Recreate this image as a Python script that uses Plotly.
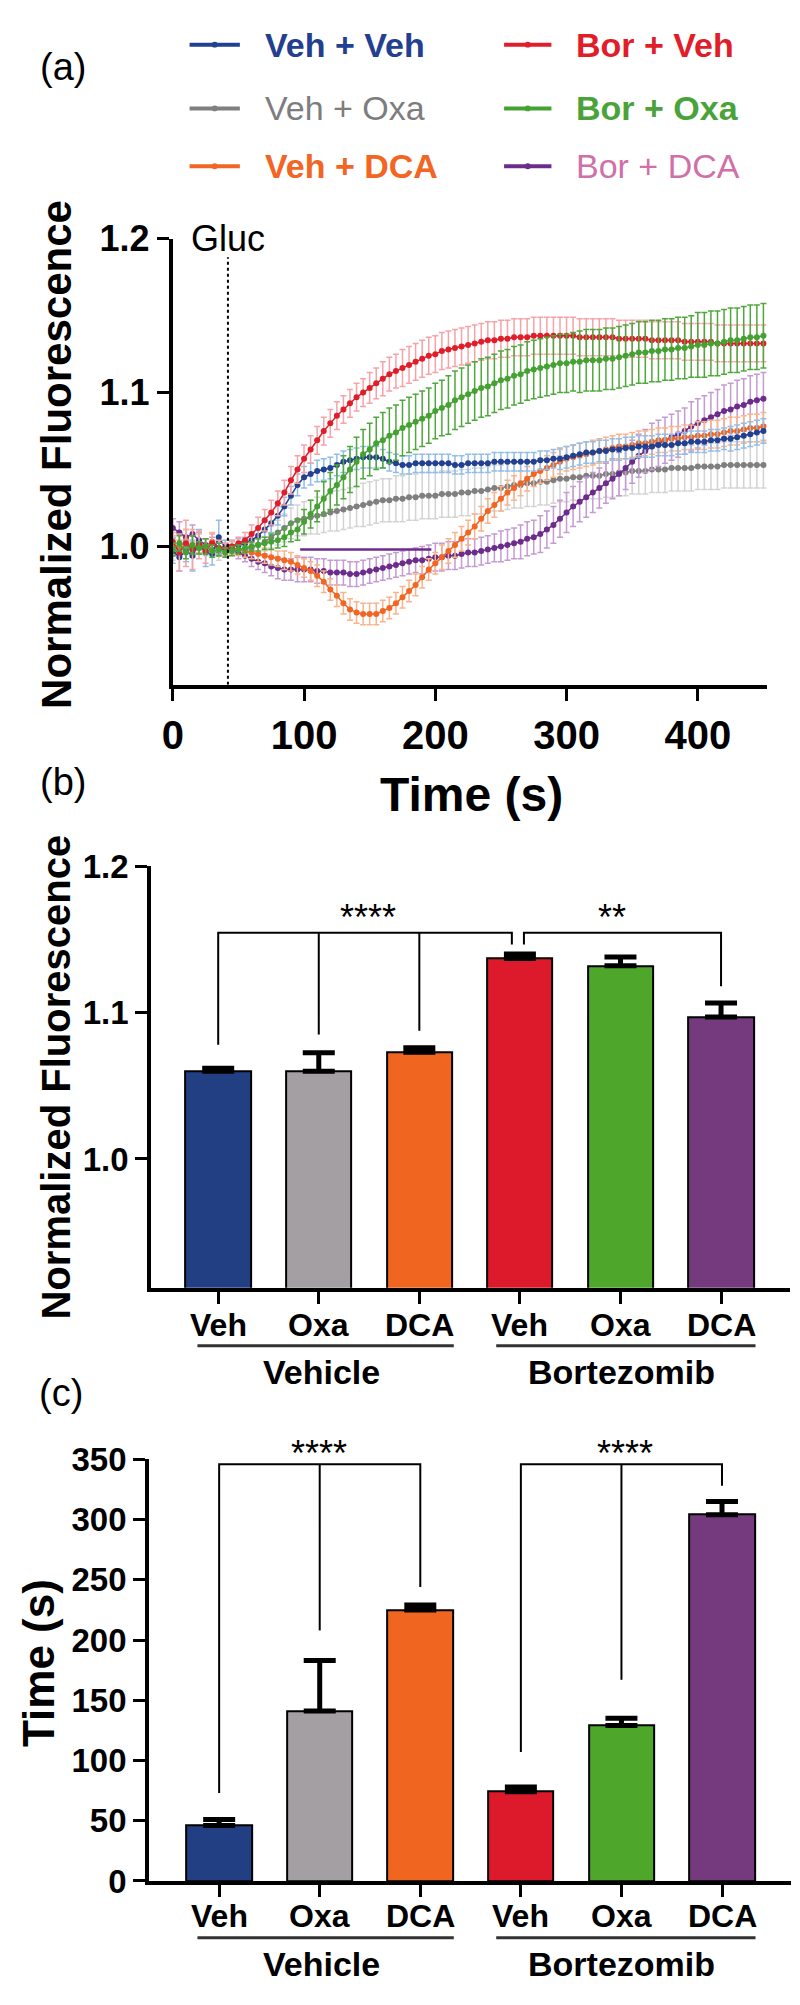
import plotly.graph_objects as go

# ---------------- panel (a): time course, one reading every 5 s ----------------
time_s = list(range(0, 451, 5))
gluc_time = 42

veh_veh = [0.997, 0.993, 0.997, 0.994, 1.003, 0.996, 0.995, 1.006, 0.999, 1.000,
           1.001, 1.002, 1.004, 1.007, 1.011, 1.015, 1.020, 1.026, 1.033, 1.040,
           1.045, 1.047, 1.049, 1.050, 1.051, 1.053, 1.055, 1.056, 1.057, 1.058,
           1.058, 1.058, 1.057, 1.055, 1.054, 1.053, 1.053, 1.054, 1.054, 1.054,
           1.054, 1.054, 1.054, 1.053, 1.053, 1.054, 1.054, 1.054, 1.054, 1.055,
           1.055, 1.055, 1.055, 1.055, 1.055, 1.055, 1.056, 1.056, 1.057, 1.057,
           1.058, 1.059, 1.060, 1.061, 1.061, 1.062, 1.062, 1.063, 1.063, 1.064,
           1.064, 1.065, 1.065, 1.065, 1.066, 1.066, 1.066, 1.067, 1.067, 1.068,
           1.068, 1.068, 1.069, 1.069, 1.070, 1.070, 1.071, 1.072, 1.073, 1.074,
           1.075]
veh_veh_err = [0.008, 0.009, 0.007, 0.010, 0.008, 0.009, 0.007, 0.011, 0.005, 0.004,
               0.004, 0.004, 0.005, 0.005, 0.005, 0.006, 0.006, 0.006, 0.006, 0.007,
               0.007, 0.007, 0.007, 0.007, 0.007, 0.007, 0.007, 0.007, 0.007, 0.007,
               0.007, 0.007, 0.006, 0.006, 0.006, 0.006, 0.006, 0.006, 0.006, 0.006,
               0.006, 0.006, 0.006, 0.006, 0.006, 0.006, 0.006, 0.006, 0.006, 0.006,
               0.006, 0.006, 0.006, 0.006, 0.006, 0.006, 0.006, 0.006, 0.006, 0.007,
               0.007, 0.007, 0.007, 0.007, 0.007, 0.007, 0.007, 0.007, 0.007, 0.007,
               0.007, 0.007, 0.007, 0.007, 0.007, 0.007, 0.007, 0.007, 0.007, 0.007,
               0.007, 0.007, 0.007, 0.007, 0.007, 0.008, 0.008, 0.008, 0.008, 0.008,
               0.008]

veh_oxa = [0.995, 0.998, 1.001, 0.996, 0.999, 0.997, 0.998, 0.995, 0.996, 0.997,
           0.998, 0.998, 0.999, 1.001, 1.003, 1.006, 1.009, 1.012, 1.015, 1.017,
           1.018, 1.019, 1.020, 1.021, 1.022, 1.023, 1.024, 1.025, 1.026, 1.027,
           1.028, 1.029, 1.030, 1.030, 1.031, 1.031, 1.032, 1.032, 1.033, 1.033,
           1.033, 1.034, 1.034, 1.034, 1.035, 1.035, 1.036, 1.036, 1.037, 1.038,
           1.038, 1.039, 1.040, 1.040, 1.041, 1.041, 1.042, 1.042, 1.043, 1.044,
           1.044, 1.045, 1.045, 1.046, 1.046, 1.046, 1.047, 1.047, 1.048, 1.048,
           1.049, 1.049, 1.049, 1.050, 1.050, 1.050, 1.051, 1.051, 1.051, 1.051,
           1.052, 1.052, 1.052, 1.052, 1.053, 1.053, 1.053, 1.053, 1.053, 1.053,
           1.053]
veh_oxa_err = [0.004, 0.003, 0.004, 0.003, 0.004, 0.003, 0.003, 0.004, 0.003, 0.003,
               0.003, 0.004, 0.004, 0.005, 0.006, 0.007, 0.008, 0.009, 0.010, 0.010,
               0.011, 0.011, 0.012, 0.012, 0.012, 0.013, 0.013, 0.013, 0.013, 0.014,
               0.014, 0.014, 0.014, 0.014, 0.015, 0.015, 0.015, 0.015, 0.015, 0.015,
               0.015, 0.015, 0.015, 0.015, 0.015, 0.015, 0.015, 0.015, 0.015, 0.015,
               0.015, 0.015, 0.015, 0.015, 0.015, 0.015, 0.015, 0.015, 0.015, 0.015,
               0.015, 0.015, 0.015, 0.015, 0.015, 0.015, 0.015, 0.015, 0.015, 0.015,
               0.015, 0.015, 0.015, 0.015, 0.015, 0.015, 0.015, 0.015, 0.015, 0.015,
               0.015, 0.015, 0.015, 0.015, 0.015, 0.015, 0.015, 0.015, 0.015, 0.015,
               0.015]

veh_dca = [1.001, 0.999, 1.004, 0.998, 1.002, 1.000, 1.003, 0.999, 1.000, 0.999,
           0.998, 0.997, 0.996, 0.995, 0.994, 0.993, 0.992, 0.991, 0.990, 0.988,
           0.986, 0.984, 0.981, 0.977, 0.972, 0.968, 0.963, 0.959, 0.957, 0.956,
           0.956, 0.956, 0.958, 0.960, 0.963, 0.967, 0.971, 0.975, 0.980, 0.985,
           0.989, 0.993, 0.997, 1.001, 1.005, 1.009, 1.013, 1.018, 1.023, 1.027,
           1.031, 1.035, 1.038, 1.041, 1.044, 1.047, 1.049, 1.051, 1.053, 1.055,
           1.057, 1.058, 1.059, 1.060, 1.061, 1.062, 1.063, 1.064, 1.065, 1.065,
           1.066, 1.067, 1.067, 1.068, 1.069, 1.069, 1.070, 1.070, 1.071, 1.071,
           1.072, 1.072, 1.073, 1.073, 1.074, 1.075, 1.075, 1.076, 1.077, 1.077,
           1.078]
veh_dca_err = [0.006, 0.005, 0.007, 0.005, 0.006, 0.005, 0.006, 0.005, 0.004, 0.004,
               0.004, 0.004, 0.004, 0.005, 0.005, 0.005, 0.005, 0.006, 0.006, 0.006,
               0.006, 0.006, 0.007, 0.007, 0.007, 0.007, 0.007, 0.007, 0.007, 0.007,
               0.007, 0.007, 0.007, 0.007, 0.007, 0.007, 0.007, 0.007, 0.007, 0.007,
               0.007, 0.008, 0.008, 0.008, 0.008, 0.008, 0.008, 0.008, 0.008, 0.008,
               0.008, 0.008, 0.008, 0.008, 0.008, 0.008, 0.008, 0.008, 0.008, 0.008,
               0.008, 0.008, 0.008, 0.008, 0.008, 0.008, 0.008, 0.008, 0.008, 0.008,
               0.008, 0.008, 0.008, 0.008, 0.008, 0.008, 0.008, 0.008, 0.008, 0.008,
               0.009, 0.009, 0.009, 0.009, 0.009, 0.009, 0.009, 0.009, 0.009, 0.009,
               0.009]

bor_veh = [1.003, 0.996, 1.002, 0.998, 1.001, 0.997, 1.002, 0.999, 0.998, 1.000,
           1.002, 1.004, 1.008, 1.012, 1.017, 1.022, 1.028, 1.035, 1.043, 1.050,
           1.057, 1.063, 1.069, 1.075, 1.080, 1.085, 1.089, 1.093, 1.097, 1.100,
           1.103, 1.106, 1.109, 1.112, 1.114, 1.116, 1.118, 1.120, 1.122, 1.124,
           1.125, 1.127, 1.128, 1.129, 1.130, 1.131, 1.132, 1.133, 1.134, 1.134,
           1.135, 1.135, 1.136, 1.136, 1.136, 1.137, 1.137, 1.137, 1.137, 1.137,
           1.137, 1.137, 1.136, 1.136, 1.136, 1.136, 1.136, 1.136, 1.135, 1.135,
           1.135, 1.135, 1.135, 1.134, 1.134, 1.134, 1.134, 1.134, 1.133, 1.133,
           1.133, 1.133, 1.133, 1.132, 1.132, 1.132, 1.132, 1.132, 1.132, 1.132,
           1.132]
bor_veh_err = [0.006, 0.012, 0.015, 0.013, 0.009, 0.008, 0.006, 0.005, 0.004, 0.004,
               0.004, 0.005, 0.006, 0.007, 0.007, 0.008, 0.008, 0.008, 0.009, 0.009,
               0.009, 0.009, 0.009, 0.009, 0.009, 0.009, 0.009, 0.009, 0.009, 0.009,
               0.010, 0.010, 0.011, 0.011, 0.011, 0.012, 0.012, 0.012, 0.012, 0.012,
               0.012, 0.012, 0.012, 0.012, 0.012, 0.012, 0.012, 0.012, 0.012, 0.012,
               0.012, 0.012, 0.012, 0.012, 0.012, 0.012, 0.012, 0.012, 0.012, 0.012,
               0.012, 0.012, 0.012, 0.012, 0.012, 0.012, 0.012, 0.012, 0.012, 0.012,
               0.012, 0.012, 0.012, 0.012, 0.012, 0.012, 0.012, 0.012, 0.012, 0.012,
               0.012, 0.012, 0.012, 0.012, 0.012, 0.012, 0.012, 0.012, 0.012, 0.012,
               0.012]

bor_oxa = [0.998, 1.002, 0.996, 1.001, 0.999, 1.000, 0.997, 0.998, 0.996, 0.997,
           0.998, 0.999, 1.000, 1.001, 1.002, 1.003, 1.004, 1.006, 1.009, 1.011,
           1.016, 1.021, 1.026, 1.031, 1.036, 1.040, 1.045, 1.050, 1.055, 1.060,
           1.063, 1.067, 1.069, 1.072, 1.074, 1.077, 1.079, 1.081, 1.083, 1.085,
           1.088, 1.090, 1.092, 1.095, 1.097, 1.099, 1.101, 1.103, 1.104, 1.106,
           1.108, 1.109, 1.111, 1.112, 1.114, 1.115, 1.116, 1.117, 1.118, 1.119,
           1.119, 1.120, 1.120, 1.121, 1.121, 1.121, 1.122, 1.122, 1.123, 1.124,
           1.125, 1.126, 1.126, 1.127, 1.127, 1.128, 1.128, 1.129, 1.129, 1.130,
           1.131, 1.131, 1.132, 1.132, 1.133, 1.134, 1.134, 1.135, 1.136, 1.136,
           1.137]
bor_oxa_err = [0.004, 0.005, 0.004, 0.006, 0.004, 0.005, 0.004, 0.004, 0.003, 0.003,
               0.003, 0.003, 0.003, 0.004, 0.004, 0.005, 0.005, 0.006, 0.006, 0.007,
               0.008, 0.009, 0.010, 0.011, 0.012, 0.013, 0.014, 0.015, 0.016, 0.016,
               0.017, 0.017, 0.018, 0.018, 0.018, 0.018, 0.018, 0.018, 0.018, 0.018,
               0.018, 0.018, 0.019, 0.019, 0.019, 0.019, 0.019, 0.019, 0.019, 0.019,
               0.019, 0.019, 0.019, 0.019, 0.019, 0.019, 0.019, 0.019, 0.019, 0.019,
               0.019, 0.019, 0.020, 0.020, 0.020, 0.020, 0.020, 0.020, 0.020, 0.020,
               0.020, 0.020, 0.020, 0.020, 0.020, 0.020, 0.020, 0.020, 0.020, 0.020,
               0.021, 0.021, 0.021, 0.021, 0.021, 0.021, 0.021, 0.021, 0.021, 0.021,
               0.021]

bor_dca = [1.012, 1.009, 1.006, 1.008, 1.004, 1.001, 1.002, 0.999, 0.999, 0.998,
           0.996, 0.994, 0.992, 0.990, 0.989, 0.987, 0.986, 0.985, 0.985, 0.985,
           0.985, 0.985, 0.984, 0.984, 0.983, 0.983, 0.983, 0.982, 0.982, 0.983,
           0.984, 0.985, 0.986, 0.987, 0.988, 0.989, 0.990, 0.991, 0.991, 0.992,
           0.993, 0.993, 0.994, 0.994, 0.995, 0.996, 0.996, 0.997, 0.998, 0.999,
           1.000, 1.001, 1.002, 1.003, 1.005, 1.006, 1.008, 1.011, 1.014, 1.018,
           1.022, 1.026, 1.029, 1.032, 1.035, 1.038, 1.041, 1.044, 1.047, 1.051,
           1.055, 1.059, 1.062, 1.065, 1.067, 1.069, 1.071, 1.073, 1.075, 1.078,
           1.080, 1.082, 1.084, 1.086, 1.088, 1.089, 1.091, 1.092, 1.094, 1.095,
           1.096]
bor_dca_err = [0.006, 0.007, 0.005, 0.006, 0.005, 0.004, 0.004, 0.004, 0.003, 0.003,
               0.004, 0.004, 0.005, 0.005, 0.006, 0.006, 0.007, 0.007, 0.007, 0.008,
               0.008, 0.008, 0.008, 0.008, 0.008, 0.008, 0.008, 0.008, 0.008, 0.008,
               0.008, 0.008, 0.008, 0.008, 0.008, 0.008, 0.008, 0.008, 0.009, 0.009,
               0.009, 0.009, 0.009, 0.009, 0.009, 0.009, 0.009, 0.009, 0.009, 0.009,
               0.010, 0.010, 0.010, 0.011, 0.011, 0.011, 0.012, 0.012, 0.012, 0.012,
               0.013, 0.013, 0.013, 0.013, 0.013, 0.013, 0.013, 0.013, 0.014, 0.014,
               0.014, 0.014, 0.014, 0.015, 0.015, 0.015, 0.015, 0.015, 0.015, 0.016,
               0.016, 0.016, 0.016, 0.016, 0.017, 0.017, 0.017, 0.017, 0.017, 0.017,
               0.017]

# flat purple segment drawn at baseline in the original
bor_dca_flat_t = [97, 197]
bor_dca_flat_y = [0.998, 0.998]

series_names = ["Veh + Veh", "Veh + Oxa", "Veh + DCA", "Bor + Veh", "Bor + Oxa", "Bor + DCA"]

# ---------------- panels (b) and (c): bar summaries ----------------
bar_labels = ["Veh", "Oxa", "DCA", "Veh", "Oxa", "DCA"]
group_labels = ["Vehicle", "Bortezomib"]

peak_fluor = [1.060, 1.060, 1.073, 1.137, 1.132, 1.097]
peak_fluor_err = [0.002, 0.0125, 0.003, 0.003, 0.006, 0.0095]

time_to_peak = [46, 141, 225, 74, 129, 304]
time_to_peak_err = [5, 42, 4, 4, 6, 11]

# significance brackets: (x path, y path) in data units, and star labels
sig_b_lines = [
    ([0, 0, 2.92, 2.92], [1.078, 1.1545, 1.1545, 1.1465]),
    ([1, 1], [1.085, 1.1545]),
    ([2, 2], [1.0876, 1.1545]),
    ([3.04, 3.04, 5, 5], [1.1465, 1.1545, 1.1545, 1.118]),
]
sig_b_text = [("****", 1.49), ("**", 3.92)]

sig_c_lines = [
    ([0, 0, 2, 2], [73, 346, 346, 244]),
    ([1, 1], [208, 346]),
    ([3, 3, 5, 5], [107, 346, 346, 328]),
    ([4, 4], [167, 346]),
]
sig_c_text = [("****", 0.99), ("****", 4.04)]

# ---------------- styling ----------------
# the page body keeps its default 8 px margin, so the figure sits 8 px in
# and is made 16 px smaller so the page does not overflow the window
OFF = 8
W, H = 800 - 2 * OFF, 2005 - 2 * OFF
FONT = "Liberation Sans, Arial, sans-serif"

line_colors = ["#22408f", "#7f7f7f", "#f26522", "#e21d2a", "#44a132", "#6b2c8c"]
err_colors = ["#93bde6", "#d3d3d3", "#f9b48c", "#f5a3a8", "#4fa83c", "#c59bd4"]
text_colors = ["#22408f", "#7d7d7d", "#f26522", "#e21d2a", "#4aa33a", "#d070a8"]
legend_bold = [True, False, True, True, True, False]
bar_colors = ["#233f83", "#a39fa2", "#f0651f", "#dd1a2b", "#4ea72a", "#753a7d"]


def px(x):
    return (x - OFF) / W


def py(y):
    return 1 - (y - OFF) / H


fig = go.Figure()

curves = [veh_veh, veh_oxa, veh_dca, bor_veh, bor_oxa, bor_dca]
curve_errs = [veh_veh_err, veh_oxa_err, veh_dca_err, bor_veh_err, bor_oxa_err, bor_dca_err]
draw_order = [1, 5, 2, 0, 3, 4]

for i in draw_order:
    fig.add_trace(go.Scatter(
        x=time_s, y=curves[i], mode="lines+markers",
        line=dict(color=line_colors[i], width=1.5),
        marker=dict(color=line_colors[i], size=6),
        error_y=dict(type="data", array=curve_errs[i], color=err_colors[i],
                     thickness=1.5, width=3),
        xaxis="x", yaxis="y", showlegend=False, name=series_names[i],
    ))

fig.add_trace(go.Scatter(
    x=bor_dca_flat_t, y=bor_dca_flat_y, mode="lines",
    line=dict(color=line_colors[5], width=2.5),
    xaxis="x", yaxis="y", showlegend=False,
))

bar_x = list(range(len(bar_labels)))

fig.add_trace(go.Bar(
    x=bar_x, y=peak_fluor, width=0.65,
    marker=dict(color=bar_colors, line=dict(color="black", width=2)),
    error_y=dict(type="data", symmetric=False, array=peak_fluor_err,
                 arrayminus=[0] * len(peak_fluor), color="black", thickness=5, width=16),
    xaxis="x2", yaxis="y2", showlegend=False,
))
for xs, ys in sig_b_lines:
    fig.add_trace(go.Scatter(x=xs, y=ys, mode="lines", line=dict(color="black", width=2),
                             xaxis="x2", yaxis="y2", showlegend=False))

fig.add_trace(go.Bar(
    x=bar_x, y=time_to_peak, width=0.65,
    marker=dict(color=bar_colors, line=dict(color="black", width=2)),
    error_y=dict(type="data", symmetric=False, array=time_to_peak_err,
                 arrayminus=[0] * len(time_to_peak), color="black", thickness=5, width=16),
    xaxis="x3", yaxis="y3", showlegend=False,
))
for xs, ys in sig_c_lines:
    fig.add_trace(go.Scatter(x=xs, y=ys, mode="lines", line=dict(color="black", width=2),
                             xaxis="x3", yaxis="y3", showlegend=False))

axis_common = dict(showline=True, linecolor="black", linewidth=4, ticks="outside",
                   ticklen=12, tickwidth=3, tickcolor="black", showgrid=False,
                   zeroline=False, fixedrange=True)

fig.update_layout(
    width=W, height=H, margin=dict(l=0, r=0, t=0, b=0),
    paper_bgcolor="white", plot_bgcolor="white",
    font=dict(family=FONT, color="black"),
    xaxis=dict(domain=[px(164), px(767)], range=[0, 453], anchor="y",
               tickvals=[0, 100, 200, 300, 400],
               tickfont=dict(size=40, weight="bold"), **axis_common),
    yaxis=dict(domain=[py(678), py(223)], range=[0.910, 1.2], anchor="x",
               tickvals=[1.0, 1.1, 1.2], ticktext=["1.0", "1.1", "1.2"],
               tickfont=dict(size=36, weight="bold"), **axis_common),
    xaxis2=dict(domain=[px(142), px(790)], range=[-0.667, 5.686], anchor="y2",
                tickvals=bar_x, showticklabels=False, **axis_common),
    yaxis2=dict(domain=[py(1293), py(863)], range=[0.912, 1.2], anchor="x2",
                tickvals=[1.0, 1.1, 1.2], ticktext=["1.0", "1.1", "1.2"],
                tickfont=dict(size=33, weight="bold"), **axis_common),
    xaxis3=dict(domain=[px(140), px(791)], range=[-0.696, 5.686], anchor="y3",
                tickvals=bar_x, showticklabels=False, **axis_common),
    yaxis3=dict(domain=[py(1898), py(1468)], range=[0, 350], anchor="x3",
                tickvals=[0, 50, 100, 150, 200, 250, 300, 350],
                tickfont=dict(size=33, weight="bold"), **axis_common),
    bargap=0,
)

annotations = []
shapes = []


def paper_text(text, x, y, size, bold=False, color="black", angle=0, xanchor="center"):
    annotations.append(dict(
        text=text, x=px(x), y=py(y), xref="paper", yref="paper",
        xanchor=xanchor, yanchor="middle", showarrow=False, textangle=angle,
        font=dict(size=size, color=color, family=FONT, weight="bold" if bold else "normal"),
    ))


def axis_text(text, x, xref, y, size, bold=True):
    annotations.append(dict(
        text=text, x=x, y=py(y), xref=xref, yref="paper",
        xanchor="center", yanchor="middle", showarrow=False,
        font=dict(size=size, color="black", family=FONT, weight="bold" if bold else "normal"),
    ))


# panel letters
paper_text("(a)", 53, 48, 38)
paper_text("(b)", 53, 777, 38)
paper_text("(c)", 51, 1400, 38)

# legend for panel (a): two columns
legend_rows = [25, 90, 149]
legend_cols = [(181, 232, 255), (500, 548, 571)]
for k, name in enumerate(series_names):
    col, row = divmod(k, 3)
    x0, x1, xt = legend_cols[col]
    y = legend_rows[row]
    shapes.append(dict(type="line", xref="paper", yref="paper",
                       x0=px(x0), x1=px(x1), y0=py(y), y1=py(y),
                       line=dict(color=line_colors[k], width=4)))
    shapes.append(dict(type="circle", xref="paper", yref="paper",
                       x0=px((x0 + x1) / 2 - 3), x1=px((x0 + x1) / 2 + 3),
                       y0=py(y + 3), y1=py(y - 3),
                       fillcolor=line_colors[k], line=dict(width=0)))
    paper_text(name, xt, y, 34, bold=legend_bold[k], color=text_colors[k], xanchor="left")

# panel (a) titles and glucose marker
paper_text("Normalized Fluorescence", 46, 443, 42, bold=True, angle=-90)
paper_text("Time (s)", 467, 790, 48, bold=True)
paper_text("Gluc", 220, 223, 36)
shapes.append(dict(type="line", xref="x", yref="y", x0=gluc_time, x1=gluc_time,
                   y0=0.91, y1=1.188, line=dict(color="black", width=2, dash="dot")))

# panel (b) titles, stars and category labels
paper_text("Normalized Fluorescence", 46, 1078, 40, bold=True, angle=-90)
for text, x in sig_b_text:
    axis_text(text, x, "x2", 915, 36, bold=False)
for i, lab in enumerate(bar_labels):
    axis_text(lab, bar_x[i], "x2", 1331, 32)

# panel (c) titles, stars and category labels
paper_text("Time (s)", 28, 1676, 44, bold=True, angle=-90)
for text, x in sig_c_text:
    axis_text(text, x, "x3", 1462, 36, bold=False)
for i, lab in enumerate(bar_labels):
    axis_text(lab, bar_x[i], "x3", 1934, 32)

# group underlines and labels for the bar panels
for line_y, label_y in [(1352, 1379), (1956, 1983)]:
    for (x0, x1), label, cx in zip([(189, 449), (492, 755)], group_labels, [315, 619]):
        shapes.append(dict(type="line", xref="paper", yref="paper",
                           x0=px(x0), x1=px(x1), y0=py(line_y), y1=py(line_y),
                           line=dict(color="#333333", width=3)))
        paper_text(label, cx, label_y, 34, bold=True)

fig.update_layout(annotations=annotations, shapes=shapes)

fig.write_html("out.html")
